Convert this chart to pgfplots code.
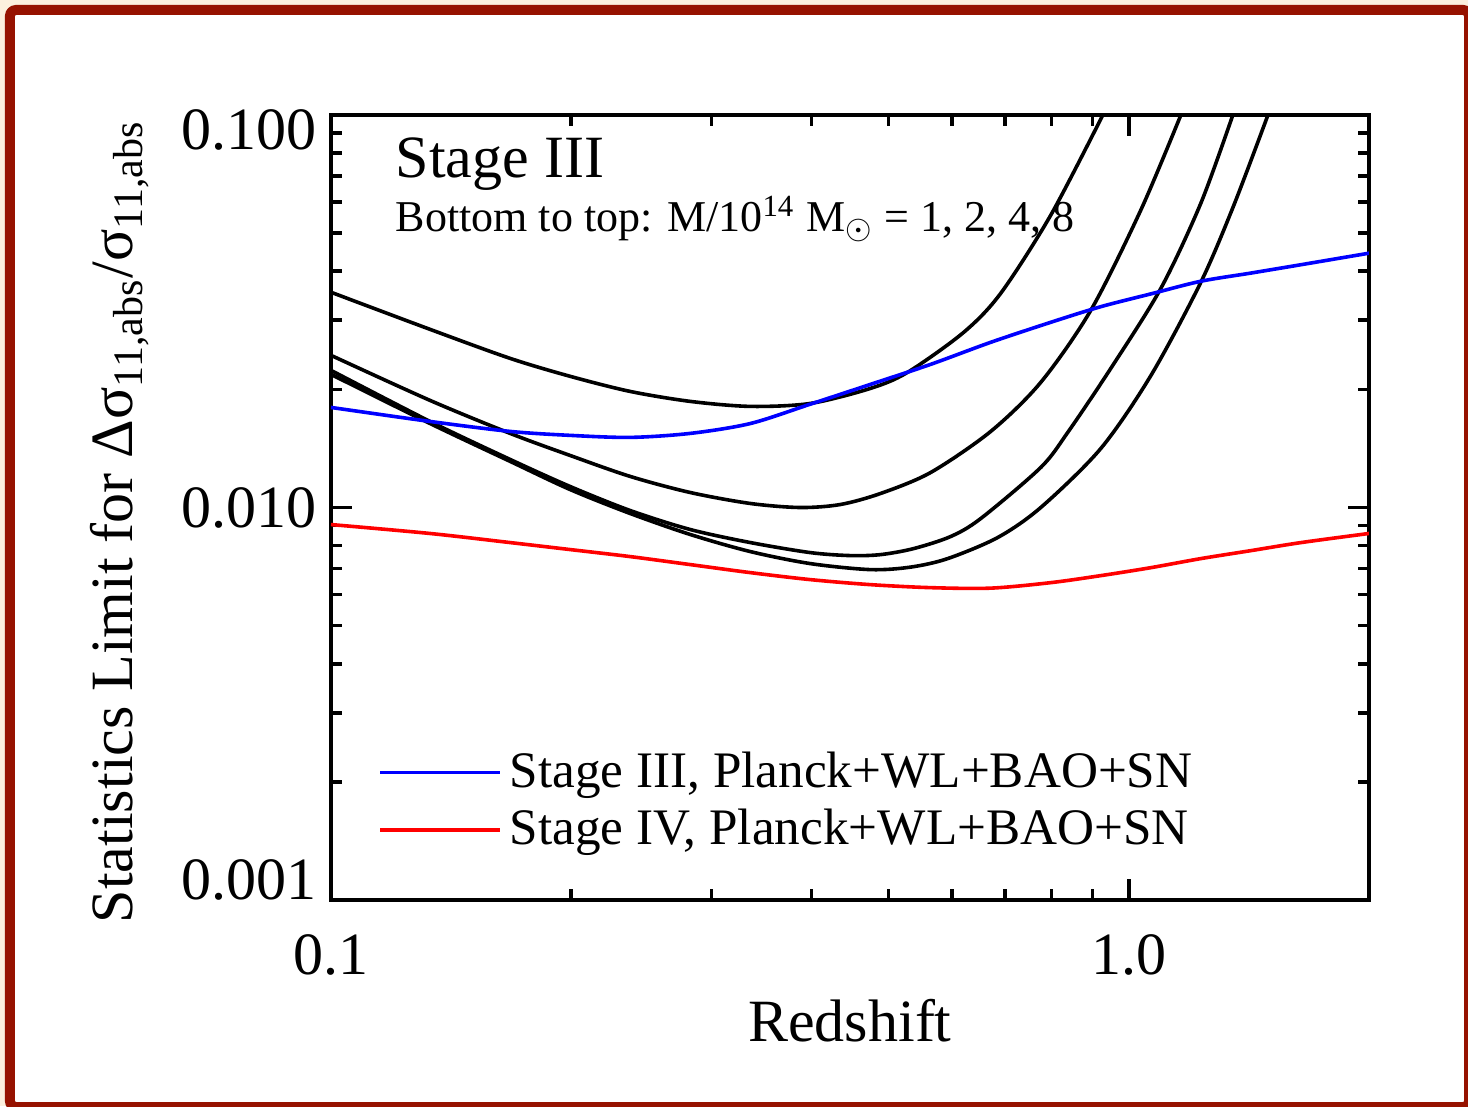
\documentclass[border=0pt]{standalone}
\usepackage{fontspec}
\setmainfont{Liberation Serif}
\usepackage{pgfplots}
\pgfplotsset{compat=1.18}
\definecolor{framered}{RGB}{150,18,0}
\definecolor{cream}{RGB}{252,240,222}
\newcommand{\bigf}{\fontsize{15}{18}\selectfont}
\begin{document}
\begin{tikzpicture}
\fill[cream] (-82.75pt,-51.5pt) rectangle (284.25pt,225pt);
\filldraw[fill=white, draw=framered, line width=2.5pt, rounded corners=1.5pt] (-80.25pt,-51.75pt) rectangle (284.5pt,222.5pt);
\begin{axis}[
  at={(0pt,0pt)}, anchor=south west,
  scale only axis, width=259.5pt, height=196.25pt,
  xmode=log, ymode=log,
  xmin=0.1, xmax=2, ymin=0.001, ymax=0.1,
  xtick={0.1,1}, xticklabels={0.1,1.0},
  minor xtick={0.2,0.3,0.4,0.5,0.6,0.7,0.8,0.9},
  ytick={0.001,0.01,0.1},
  yticklabels={\raisebox{5pt}[\height][\depth]{0.001},0.010,\raisebox{-3.75pt}[\height][\depth]{0.100}},
  minor ytick={0.002,0.003,0.004,0.005,0.006,0.007,0.008,0.009,0.02,0.03,0.04,0.05,0.06,0.07,0.08,0.09},
  tick align=inside,
  major tick length=5.25pt, minor tick length=2.75pt,
  every tick/.style={black, line width=0.9pt},
  axis line style={line width=1pt},
  tick label style={font=\bigf},
  xticklabel style={yshift=-5pt},
  xlabel={Redshift},
  xlabel style={font=\bigf, yshift=0.75pt},
  ylabel={Statistics Limit for Δσ\textsubscript{11,abs}/σ\textsubscript{11,abs}},
  every axis y label/.style={at={(rel axis cs:-0.191,0.482)}, rotate=90, anchor=base, font=\bigf},
  legend style={draw=none, fill=none, at={(rel axis cs:0.0448,0.20)}, anchor=north west,
    font=\fontsize{12.8}{15}\selectfont, row sep=0pt, inner sep=0pt},
  legend cell align=left,
  legend image code/.code={\path (0pt,0pt) -- (30pt,0pt); \draw[#1, line width=0.9pt] (0pt,0pt) -- (28.75pt,0pt);},
]
% M = 8
\addplot[black, line width=0.9pt, smooth, forget plot] coordinates {
(0.1,0.03536) (0.1331,0.02844) (0.1677,0.02399) (0.1995,0.02159) (0.2372,0.01976)
(0.2821,0.01864) (0.3355,0.0181) (0.399,0.01842) (0.4746,0.02012) (0.5282,0.02211)
(0.6209,0.02795) (0.691,0.03515) (0.7982,0.05555) (0.9277,0.1)};
% M = 4
\addplot[black, line width=0.9pt, smooth, forget plot] coordinates {
(0.1,0.02442) (0.1331,0.01875) (0.1677,0.01545) (0.1995,0.01357) (0.2372,0.012)
(0.2821,0.01092) (0.3355,0.01024) (0.3877,0.01) (0.4351,0.01018) (0.4885,0.01086)
(0.5644,0.01228) (0.6713,0.01563) (0.7756,0.02084) (0.8961,0.03181) (1.035,0.05722) (1.162,0.1)};
% M = 2
\addplot[black, line width=0.9pt, smooth, forget plot] coordinates {
(0.1,0.02236) (0.1331,0.01657) (0.1677,0.01326) (0.1995,0.01131) (0.2372,0.009824)
(0.2821,0.008789) (0.3355,0.008142) (0.399,0.007677) (0.4479,0.007544) (0.4885,0.007587)
(0.5374,0.00786) (0.598,0.008436) (0.6522,0.009374) (0.7756,0.01265) (0.8384,0.01554)
(0.9494,0.02263) (1.097,0.0362) (1.231,0.05963) (1.35,0.1)};
% M = 1
\addplot[black, line width=0.9pt, smooth, forget plot] coordinates {
(0.1,0.02184) (0.1331,0.01637) (0.1677,0.01311) (0.1995,0.01111) (0.2372,0.009654)
(0.2821,0.008536) (0.3355,0.007723) (0.399,0.007197) (0.4746,0.006947) (0.5328,0.007051)
(0.5929,0.007412) (0.685,0.008387) (0.7756,0.01) (0.9223,0.01414) (1.066,0.02171)
(1.231,0.0375) (1.354,0.05893) (1.494,0.1)};
% Stage III
\addplot[blue, line width=0.9pt, smooth] coordinates {
(0.1,0.01799) (0.1331,0.01657) (0.1677,0.01563) (0.1995,0.01527) (0.2372,0.01509)
(0.2821,0.01545) (0.3355,0.01637) (0.399,0.01834) (0.4746,0.0206) (0.5644,0.02316)
(0.6713,0.02636) (0.7982,0.02964) (0.9223,0.03249) (1.066,0.03503) (1.231,0.03772)
(1.423,0.03958) (1.644,0.04156) (2.0,0.04446)};
\addlegendentry{Stage III, Planck+WL+BAO+SN}
% Stage IV
\addplot[red, line width=0.9pt, smooth] coordinates {
(0.1,0.00905) (0.1331,0.008588) (0.1677,0.008142) (0.1995,0.007815) (0.2372,0.007499)
(0.2821,0.007155) (0.3355,0.006826) (0.399,0.006551) (0.4746,0.006361) (0.5644,0.00625)
(0.6713,0.006232) (0.7982,0.006436) (0.9223,0.006707) (1.066,0.007029) (1.231,0.007412)
(1.423,0.007768) (1.644,0.008142) (2.0,0.008588)};
\addlegendentry{Stage IV, Planck+WL+BAO+SN}
\node[anchor=base west, inner sep=0pt, font=\bigf] at (rel axis cs:0.0617,0.921) {Stage III};
\node[anchor=base west, inner sep=0pt, font=\fontsize{11}{13}\selectfont] at (rel axis cs:0.0617,0.851) {Bottom to top: M/10\textsuperscript{14} M$_\odot$ = 1, 2, 4, 8};
\end{axis}
\pgfresetboundingbox
\path[use as bounding box] (-82.75pt,-51.5pt) rectangle (284.25pt,225pt);
\end{tikzpicture}
\end{document}
